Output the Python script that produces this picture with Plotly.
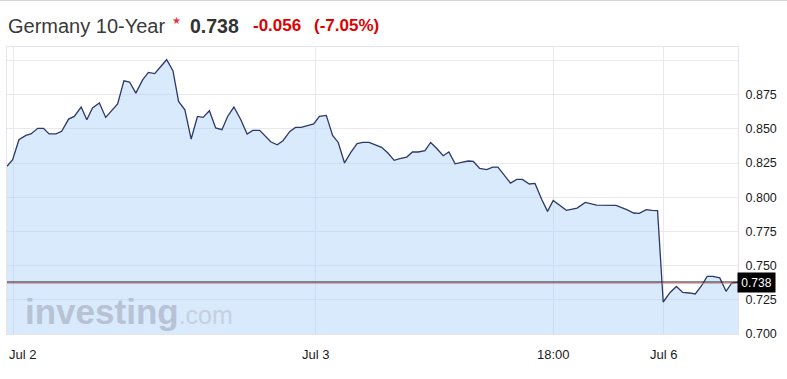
import plotly.graph_objects as go

# ---- data (30-minute bars, index relative to Jul 2 00:00) ----
bar_index = [-1.1, -0.2, 0.8, 1.9, 2.7, 3.8, 4.7, 5.6, 6.7, 7.6,
             8.7, 9.6, 10.7, 11.6, 12.5, 13.6, 14.6, 15.5, 16.5, 17.5,
             18.4, 19.4, 20.5, 21.4, 22.4, 23.3, 24.3, 25.3, 26.2, 27.2,
             28.2, 29.2, 30.1, 31.1, 32.1, 33.1, 34.0, 35.0, 36.1, 37.1,
             38.0, 39.1, 40.0, 40.9, 41.9, 42.8, 43.9, 44.8, 45.7, 46.7,
             47.7, 48.6, 49.7, 50.7, 51.6, 52.6, 53.6, 54.6, 55.5, 56.5,
             57.4, 58.5, 59.5, 60.5, 61.4, 62.5, 63.4, 64.3, 65.4, 66.3,
             67.2, 68.3, 69.2, 70.2, 71.2, 72.3, 73.1, 74.1, 75.2, 76.2,
             77.0, 77.8, 79.0, 80.0, 80.9, 82.0, 82.9, 84.0, 84.9, 85.8,
             86.9, 87.9, 89.6, 90.9, 92.7, 95.8, 97.5, 98.6, 99.5, 100.6,
             101.5, 102.4, 103.3, 104.4, 105.4, 106.4, 107.5, 108.4, 109.4, 110.3,
             111.2, 112.3, 113.3, 114.2, 115.2]
yield_pct = [0.8226, 0.8275, 0.8421, 0.8452, 0.8463, 0.8504, 0.8504, 0.8463, 0.8463, 0.8482,
             0.8572, 0.8591, 0.8660, 0.8567, 0.8653, 0.8689, 0.8584, 0.8633, 0.8682, 0.8852,
             0.8843, 0.8762, 0.8860, 0.8913, 0.8904, 0.8953, 0.9006, 0.8926, 0.8701, 0.8640,
             0.8426, 0.8591, 0.8584, 0.8633, 0.8507, 0.8494, 0.8591, 0.8660, 0.8567, 0.8463,
             0.8489, 0.8489, 0.8450, 0.8404, 0.8384, 0.8414, 0.8482, 0.8511, 0.8511, 0.8523,
             0.8536, 0.8591, 0.8599, 0.8452, 0.8401, 0.8251, 0.8328, 0.8392, 0.8401, 0.8401,
             0.8384, 0.8365, 0.8324, 0.8270, 0.8282, 0.8294, 0.8331, 0.8331, 0.8341, 0.8401,
             0.8360, 0.8304, 0.8331, 0.8245, 0.8255, 0.8265, 0.8262, 0.8211, 0.8202, 0.8221,
             0.8221, 0.8177, 0.8104, 0.8131, 0.8131, 0.8097, 0.8101, 0.7982, 0.7897, 0.7977,
             0.7938, 0.7904, 0.7921, 0.7962, 0.7943, 0.7940, 0.7909, 0.7885, 0.7882, 0.7909,
             0.7904, 0.7902, 0.7234, 0.7304, 0.7348, 0.7304, 0.7300, 0.7293, 0.7353, 0.7421,
             0.7421, 0.7410, 0.7312, 0.7373, 0.7380]

x_tick_vals = [0, 48, 85.8, 103.3]
x_tick_text = ["Jul 2", "Jul 3", "18:00", "Jul 6"]
y_tick_vals = [0.700, 0.725, 0.750, 0.775, 0.800, 0.825, 0.850, 0.875, 0.900]
y_tick_text = ["0.700", "0.725", "0.750", "0.775", "0.800", "0.825", "0.850", "0.875", ""]

last_value = 0.738
title_name = "Germany 10-Year"
last_text = "0.738"
change_text = "-0.056"
change_pct_text = "(-7.05%)"

FONT = "Liberation Sans, Arial, sans-serif"
W, H = 787, 379
ML, MR, MT, MB = 7, 49, 47, 45
PW, PH = W - ML - MR, H - MT - MB


def px_x(px):
    return (px - ML) / PW


def px_y(py):
    return 1 - (py - MT) / PH


fig = go.Figure()
fig.add_trace(go.Scatter(
    x=bar_index, y=yield_pct, mode="lines",
    line=dict(color="#2c3866", width=1.3),
    fill="tozeroy", fillcolor="rgba(170,208,250,0.45)",
    hoverinfo="skip", showlegend=False,
))

shapes = [
    dict(type="line", xref="paper", yref="y", x0=0, x1=1, y0=last_value - 0.0011, y1=last_value - 0.0011,
         line=dict(color="rgba(235,110,110,0.55)", width=1)),
    dict(type="line", xref="paper", yref="y", x0=0, x1=1, y0=last_value, y1=last_value,
         line=dict(color="#1e1e1e", width=1.1)),
    dict(type="line", xref="paper", yref="paper", x0=-ML / PW, x1=1 + MR / PW,
         y0=1 + (MT - 0.5) / PH, y1=1 + (MT - 0.5) / PH, line=dict(color="#d4d4d8", width=1)),
]

annotations = []
# x tick labels
for i, (v, t) in enumerate(zip(x_tick_vals, x_tick_text)):
    if i == 0:
        annotations.append(dict(x=px_x(7), xref="paper", y=px_y(354), yref="paper", text=t,
                                showarrow=False, xanchor="left", yanchor="middle",
                                font=dict(family=FONT, size=13, color="#1a1a1a")))
    else:
        annotations.append(dict(x=v, xref="x", y=px_y(354), yref="paper", text=t,
                                showarrow=False, xanchor="center", yanchor="middle",
                                font=dict(family=FONT, size=13, color="#1a1a1a")))
# last value box
annotations.append(dict(x=1, xref="paper", y=last_value, yref="y", text=last_text, showarrow=False,
                        xanchor="left", yanchor="middle", xshift=-1, bgcolor="#000000",
                        width=33, height=15, borderpad=2,
                        font=dict(family=FONT, size=12, color="#ffffff")))
# title pieces
title_y = px_y(26)
annotations += [
    dict(x=px_x(6), xref="paper", y=title_y, yref="paper", text=title_name, showarrow=False,
         xanchor="left", yanchor="middle", font=dict(family=FONT, size=20, color="#3a3a3a")),
    dict(x=px_x(176.5), xref="paper", y=px_y(20.5), yref="paper", text="★", showarrow=False,
         xanchor="center", yanchor="middle", font=dict(family="DejaVu Sans", size=10, color="#e8333a")),
    dict(x=px_x(188), xref="paper", y=title_y, yref="paper", text="<b>" + last_text + "</b>",
         showarrow=False, xanchor="left", yanchor="middle",
         font=dict(family=FONT, size=19.5, color="#333333")),
    dict(x=px_x(250.5), xref="paper", y=title_y, yref="paper", text="<b>" + change_text + "</b>",
         showarrow=False, xanchor="left", yanchor="middle",
         font=dict(family=FONT, size=17, color="#e00000")),
    dict(x=px_x(312), xref="paper", y=title_y, yref="paper", text="<b>" + change_pct_text + "</b>",
         showarrow=False, xanchor="left", yanchor="middle",
         font=dict(family=FONT, size=17, color="#e00000")),
]
# watermark
annotations.append(dict(x=px_x(23), xref="paper", y=px_y(311), yref="paper",
                        text="<b>investing</b><span style='font-size:25px;color:#c6d0de'>.com</span>",
                        showarrow=False, xanchor="left", yanchor="middle",
                        font=dict(family=FONT, size=35, color="#b7c3d5")))

fig.update_layout(
    width=W, height=H,
    margin=dict(l=ML, r=MR, t=MT, b=MB, pad=0),
    paper_bgcolor="#ffffff", plot_bgcolor="#ffffff",
    shapes=shapes, annotations=annotations,
    xaxis=dict(range=[bar_index[0], bar_index[-1]], tickvals=x_tick_vals, showticklabels=False,
               showgrid=True, gridcolor="#e8e8ee", gridwidth=1, zeroline=False,
               showline=True, linecolor="#e4e4ea", mirror=True, ticks="", fixedrange=True),
    yaxis=dict(range=[0.700, 0.9099], side="right", tickvals=y_tick_vals, ticktext=y_tick_text,
               showgrid=True, gridcolor="#e8e8ee", gridwidth=1, zeroline=False,
               showline=True, linecolor="#e4e4ea", mirror=True,
               ticks="outside", ticklen=4, tickcolor="rgba(0,0,0,0)",
               tickfont=dict(family=FONT, size=12.5, color="#1a1a1a")),
)

fig.write_html("out.html")
